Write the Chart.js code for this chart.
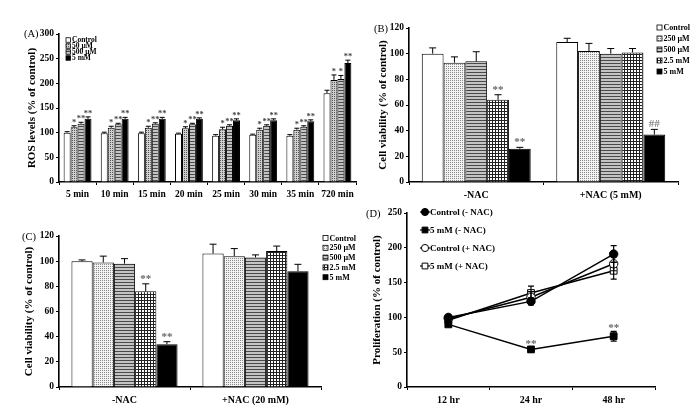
<!DOCTYPE html>
<html><head><meta charset="utf-8">
<script src="https://cdn.jsdelivr.net/npm/chart.js@4.4.0/dist/chart.umd.min.js"></script>
<style>
html,body{margin:0;padding:0;background:#fff;}
#wrap{position:relative;width:700px;height:414px;overflow:hidden;background:#fff;}
canvas{position:absolute;left:0;top:0;}
</style></head><body>
<div id="wrap">
<canvas id="cA" width="700" height="414"></canvas>
<canvas id="cB" width="700" height="414"></canvas>
<canvas id="cC" width="700" height="414"></canvas>
<canvas id="cD" width="700" height="414"></canvas>
</div>
<script>
// ---------- DATA ----------
// Panel A: ROS levels
const timeCategories = ['5 min','10 min','15 min','20 min','25 min','30 min','35 min','720 min'];
const rosSeriesNames = ['Control','50 \u00b5M','500 \u00b5M','5 mM'];
const rosControl = [100, 99, 99, 98, 94, 96, 94, 180];
const ros50uM    = [111,110,110,109,107,106,106, 207];
const ros500uM   = [118,117,118,117,114,114,112, 209];
const ros5mM     = [128,128,128,128,125,125,123, 241];
const rosErrControl = [2,2,2,1,2,1,2,6];
const rosErr50uM    = [3,3,3,3,4,3,3,10];
const rosErr500uM   = [3,2,2,2,2,2,2,7];
const rosErr5mM     = [4,3,3,2,3,3,3,6];
const rosSig50uM  = ['*','*','*','*','*','*','*','*'];
const rosSig500uM = ['**','**','**','**','**','**','**','*'];
const rosSig5mM   = ['**','**','**','**','**','**','**','**'];
const rosTicks = [0,50,100,150,200,250,300];

// Panels B & C: cell viability
const doseNames = ['Control','250 \u00b5M','500 \u00b5M','2.5 mM','5 mM'];
const nacCategoriesB = ['-NAC','+NAC (5 mM)'];
const viabB_Control = [100, 109];
const viabB_250uM   = [93, 102];
const viabB_500uM   = [94, 100];
const viabB_2_5mM   = [64, 101];
const viabB_5mM     = [26, 37];
const errB_Control = [4.5, 3];
const errB_250uM   = [4.5, 6];
const errB_500uM   = [7.5, 4];
const errB_2_5mM   = [4, 3];
const errB_5mM     = [1, 4];
const sigB_2_5mM = ['**',''];
const sigB_5mM   = ['**','##'];

const nacCategoriesC = ['-NAC','+NAC (20 mM)'];
const viabC_Control = [100, 106];
const viabC_250uM   = [99, 104];
const viabC_500uM   = [98, 103];
const viabC_2_5mM   = [76, 108];
const viabC_5mM     = [34, 92];
const errC_Control = [1, 7.5];
const errC_250uM   = [5, 6];
const errC_500uM   = [4, 2];
const errC_2_5mM   = [6, 4];
const errC_5mM     = [2, 5.5];
const sigC_2_5mM = ['**',''];
const sigC_5mM   = ['**',''];
const viabTicks = [0,20,40,60,80,100,120];

// Panel D: proliferation
const hourCategories = ['12 hr','24 hr','48 hr'];
const prolifNames = ['Control (- NAC)','5 mM (- NAC)','Control (+ NAC)','5 mM (+ NAC)'];
const prolifCtrlMinus = [100, 123, 191];
const prolif5mMMinus  = [90, 54, 73];
const prolifCtrlPlus  = [98, 129, 177];
const prolif5mMPlus   = [96, 135, 167];
const errCtrlMinus = [3, 5, 12];
const err5mMMinus  = [3, 4, 7];
const errCtrlPlus  = [3, 8, 10];
const err5mMPlus   = [3, 10, 12];
const sig5mMMinus  = ['','**','**'];
const prolifTicks = [0,50,100,150,200,250];

// ---------- STYLE / HELPERS ----------
const SERIF = "'Liberation Serif','Times New Roman',serif";
Chart.defaults.font.family = SERIF;
Chart.defaults.font.weight = 'bold';
Chart.defaults.color = '#000';
Chart.defaults.animation = false;

function pat(ctx, w, h, bg, draw) {
  const c = document.createElement('canvas'); c.width = w; c.height = h;
  const g = c.getContext('2d'); g.fillStyle = bg; g.fillRect(0,0,w,h); draw(g);
  return ctx.createPattern(c, 'repeat');
}
function patterns(ctx) {
  return {
    white: '#ffffff',
    black: '#000000',
    dotsLight: pat(ctx,2,2,'#f2f2f2',g=>{g.fillStyle='#8a8a8a';g.fillRect(0,0,1,1);}),
    dotsDark: pat(ctx,2,2,'#d0d0d0',g=>{g.fillStyle='#555';g.fillRect(0,0,1,1);}),
    stripes: pat(ctx,2,3,'#c4c4c4',g=>{g.fillStyle='#4a4a4a';g.fillRect(0,0,2,1);}),
    grid: pat(ctx,3,3,'#ffffff',g=>{g.fillStyle='#222';g.fillRect(0,0,3,1);g.fillRect(0,0,1,3);})
  };
}

const errPlugin = {
  id: 'errbars',
  afterDatasetsDraw(chart, args, o) {
    const ctx = chart.ctx, ys = chart.scales.y;
    chart.data.datasets.forEach((ds, di) => {
      const errs = o.errors[di]; if (!errs) return;
      const meta = chart.getDatasetMeta(di);
      meta.data.forEach((el, i) => {
        const v = ds.data[i], e = errs[i];
        const x = el.x;
        const yTop = ys.getPixelForValue(v + e);
        const yBase = o.twoSided ? ys.getPixelForValue(v - e) : ys.getPixelForValue(v);
        ctx.save();
        ctx.strokeStyle = '#000'; ctx.lineWidth = o.lineWidth || 1;
        ctx.beginPath();
        ctx.moveTo(x, yBase); ctx.lineTo(x, yTop);
        ctx.moveTo(x - o.cap, yTop); ctx.lineTo(x + o.cap, yTop);
        if (o.twoSided) { ctx.moveTo(x - o.cap, yBase); ctx.lineTo(x + o.cap, yBase); }
        ctx.stroke();
        const s = o.sig && o.sig[di] && o.sig[di][i];
        if (s) {
          ctx.font = o.sigFont; ctx.fillStyle = s.indexOf('#') >= 0 ? '#888' : o.sigColor;
          ctx.textAlign = 'center'; ctx.textBaseline = 'alphabetic';
          ctx.fillText(s, x + (o.sigDx || 0), yTop - o.sigGap);
        }
        ctx.restore();
      });
    });
  }
};

const decor = {
  id: 'decor',
  afterDraw(chart, args, o) {
    const ctx = chart.ctx;
    ctx.save();
    ctx.fillStyle = '#000'; ctx.textBaseline = 'middle'; ctx.textAlign = 'left';
    ctx.font = o.labelFont;
    ctx.fillText(o.label, o.labelX, o.labelY);
    ctx.font = o.legendFont;
    chart.data.datasets.forEach((ds, i) => {
      const y = o.legY + i * o.legDy;
      if (o.legKind === 'box') {
        ctx.fillStyle = ds.backgroundColor;
        ctx.fillRect(o.legX, y - o.box/2, o.box, o.box);
        ctx.strokeStyle = '#000'; ctx.lineWidth = 0.8;
        ctx.strokeRect(o.legX, y - o.box/2, o.box, o.box);
        ctx.fillStyle = '#000';
        ctx.fillText(ds.label, o.legX + o.box + o.gap, y + 0.5);
      } else {
        ctx.strokeStyle = '#000'; ctx.lineWidth = 1.2;
        ctx.beginPath(); ctx.moveTo(o.legX - 5, y); ctx.lineTo(o.legX + 5, y); ctx.stroke();
        ctx.fillStyle = ds.pointBackgroundColor; ctx.strokeStyle = '#000'; ctx.lineWidth = 1;
        Chart.helpers.drawPoint(ctx, {pointStyle: ds.pointStyle, radius: ds.pointRadius * 0.85, borderWidth: 1}, o.legX, y);
        ctx.fillStyle = '#000';
        ctx.fillText(ds.label, o.legX + o.gap, y + 0.5);
      }
    });
    ctx.restore();
  }
};

function yScale(yw, ticks, max, step, title, titlePad, tickSize) {
  return {
    min: 0, max: max,
    afterFit: s => { s.width = yw; },
    ticks: { stepSize: step, padding: 2, font: { size: tickSize, weight: 'bold' } },
    grid: { display: true, drawOnChartArea: false, drawTicks: true, tickLength: 3, color: '#000', lineWidth: 1 },
    border: { display: true, color: '#000', width: 1.6 },
    title: { display: true, text: title, font: { size: 11, weight: 'bold' }, padding: { top: titlePad, bottom: 0 } }
  };
}
function xScale(xh, tickSize) {
  return {
    offset: true,
    afterFit: s => { s.height = xh; },
    ticks: { padding: 4, font: { size: tickSize, weight: 'bold' }, maxRotation: 0, autoSkip: false },
    grid: { display: true, offset: true, drawOnChartArea: false, drawTicks: true, tickLength: 3, color: '#000', lineWidth: 1 },
    border: { display: true, color: '#000', width: 1.6 }
  };
}
function pad(area, yw, xh) {
  return { left: area.l - yw, top: area.t, right: 700 - area.r, bottom: 414 - area.b - xh };
}

// ---------- PANEL A ----------
(function(){
  const cv = document.getElementById('cA'); const ctx = cv.getContext('2d');
  const P = patterns(ctx);
  const area = {l:59, r:356, t:34, b:182}, yw = 40, xh = 28;
  const fillsA = [P.white, P.dotsDark, P.stripes, P.black];
  const vals = [rosControl, ros50uM, ros500uM, ros5mM];
  new Chart(ctx, {
    type: 'bar',
    data: { labels: timeCategories,
      datasets: vals.map((d,i)=>({ label: rosSeriesNames[i], data: d, backgroundColor: fillsA[i],
        borderColor: '#000', borderWidth: 1, categoryPercentage: 0.75, barPercentage: 1 })) },
    options: {
      responsive: false, devicePixelRatio: 1,
      layout: { padding: pad(area, yw, xh) },
      plugins: { legend: { display: false }, tooltip: { enabled: false },
        errbars: { errors: [rosErrControl, rosErr50uM, rosErr500uM, rosErr5mM], cap: 2.5, twoSided: false,
          sig: [null, rosSig50uM, rosSig500uM, rosSig5mM], sigFont: "bold 8.5px " + SERIF, sigColor: '#444', sigGap: 1 },
        decor: { label: '(A)', labelX: 24, labelY: 34, labelFont: "10.5px " + SERIF,
          legendFont: "bold 7.5px " + SERIF, legKind: 'box', legX: 66, legY: 40, legDy: 6, box: 4.5, gap: 1.5 } },
      scales: { x: xScale(xh, 9.5), y: yScale(yw, rosTicks, 300, 50, 'ROS levels (% of control)', 6.5, 9.5) }
    },
    plugins: [errPlugin, decor]
  });
})();

// ---------- PANEL B ----------
(function(){
  const cv = document.getElementById('cB'); const ctx = cv.getContext('2d');
  const P = patterns(ctx);
  const area = {l:409, r:678, t:28, b:182}, yw = 40, xh = 28;
  const fills = [P.white, P.dotsLight, P.stripes, P.grid, P.black];
  const vals = [viabB_Control, viabB_250uM, viabB_500uM, viabB_2_5mM, viabB_5mM];
  new Chart(ctx, {
    type: 'bar',
    data: { labels: nacCategoriesB,
      datasets: vals.map((d,i)=>({ label: doseNames[i], data: d, backgroundColor: fills[i],
        borderColor: '#000', borderWidth: 1, categoryPercentage: 0.81, barPercentage: 1 })) },
    options: {
      responsive: false, devicePixelRatio: 1,
      layout: { padding: pad(area, yw, xh) },
      plugins: { legend: { display: false }, tooltip: { enabled: false },
        errbars: { errors: [errB_Control, errB_250uM, errB_500uM, errB_2_5mM, errB_5mM], cap: 3.5, twoSided: false,
          sig: [null, null, null, sigB_2_5mM, sigB_5mM], sigFont: "bold 11px " + SERIF, sigColor: '#666', sigGap: 2 },
        decor: { label: '(B)', labelX: 374, labelY: 29, labelFont: "10.5px " + SERIF,
          legendFont: "bold 8px " + SERIF, legKind: 'box', legX: 657, legY: 27.5, legDy: 11, box: 5, gap: 1.5 } },
      scales: { x: xScale(xh, 10), y: yScale(yw, viabTicks, 120, 20, 'Cell viability (% of control)', 7.5, 9.5) }
    },
    plugins: [errPlugin, decor]
  });
})();

// ---------- PANEL C ----------
(function(){
  const cv = document.getElementById('cC'); const ctx = cv.getContext('2d');
  const P = patterns(ctx);
  const area = {l:59, r:321, t:236, b:387}, yw = 40, xh = 22;
  const fills = [P.white, P.dotsLight, P.stripes, P.grid, P.black];
  const vals = [viabC_Control, viabC_250uM, viabC_500uM, viabC_2_5mM, viabC_5mM];
  new Chart(ctx, {
    type: 'bar',
    data: { labels: nacCategoriesC,
      datasets: vals.map((d,i)=>({ label: doseNames[i], data: d, backgroundColor: fills[i],
        borderColor: '#000', borderWidth: 1, categoryPercentage: 0.81, barPercentage: 1 })) },
    options: {
      responsive: false, devicePixelRatio: 1,
      layout: { padding: pad(area, yw, xh) },
      plugins: { legend: { display: false }, tooltip: { enabled: false },
        errbars: { errors: [errC_Control, errC_250uM, errC_500uM, errC_2_5mM, errC_5mM], cap: 3.5, twoSided: false,
          sig: [null, null, null, sigC_2_5mM, sigC_5mM], sigFont: "bold 11px " + SERIF, sigColor: '#666', sigGap: 2 },
        decor: { label: '(C)', labelX: 22, labelY: 237, labelFont: "10.5px " + SERIF,
          legendFont: "bold 8px " + SERIF, legKind: 'box', legX: 323, legY: 238, legDy: 9.8, box: 5, gap: 1.5 } },
      scales: { x: xScale(xh, 10), y: yScale(yw, viabTicks, 120, 20, 'Cell viability (% of control)', 4, 9.5) }
    },
    plugins: [errPlugin, decor]
  });
})();

// ---------- PANEL D ----------
(function(){
  const cv = document.getElementById('cD'); const ctx = cv.getContext('2d');
  const area = {l:407, r:655, t:213, b:387}, yw = 45, xh = 22;
  const vals = [prolifCtrlMinus, prolif5mMMinus, prolifCtrlPlus, prolif5mMPlus];
  const styles = [
    { pointStyle: 'circle', pointRadius: 4.2, pointBackgroundColor: '#000' },
    { pointStyle: 'rect', pointRadius: 4.8, pointBackgroundColor: '#000' },
    { pointStyle: 'circle', pointRadius: 4.2, pointBackgroundColor: '#fff' },
    { pointStyle: 'rect', pointRadius: 4.8, pointBackgroundColor: '#fff' }
  ];
  new Chart(ctx, {
    type: 'line',
    data: { labels: hourCategories,
      datasets: vals.map((d,i)=>Object.assign({ label: prolifNames[i], data: d, borderColor: '#000', borderWidth: 1.5,
        pointBorderColor: '#000', pointBorderWidth: 1, tension: 0, fill: false }, styles[i])) },
    options: {
      responsive: false, devicePixelRatio: 1,
      layout: { padding: pad(area, yw, xh) },
      plugins: { legend: { display: false }, tooltip: { enabled: false },
        errbars: { errors: [errCtrlMinus, err5mMMinus, errCtrlPlus, err5mMPlus], cap: 3, twoSided: true, lineWidth: 1.2,
          sig: [null, sig5mMMinus, null, null], sigFont: "bold 11px " + SERIF, sigColor: '#666', sigGap: 0 },
        decor: { label: '(D)', labelX: 366, labelY: 214, labelFont: "10.5px " + SERIF,
          legendFont: "bold 9px " + SERIF, legKind: 'line', legX: 425, legY: 212, legDy: 18, gap: 5 } },
      scales: { x: xScale(xh, 10), y: yScale(yw, prolifTicks, 250, 50, 'Proliferation (% of control)', 9, 9.5) }
    },
    plugins: [errPlugin, decor]
  });
})();
</script>
</body></html>
